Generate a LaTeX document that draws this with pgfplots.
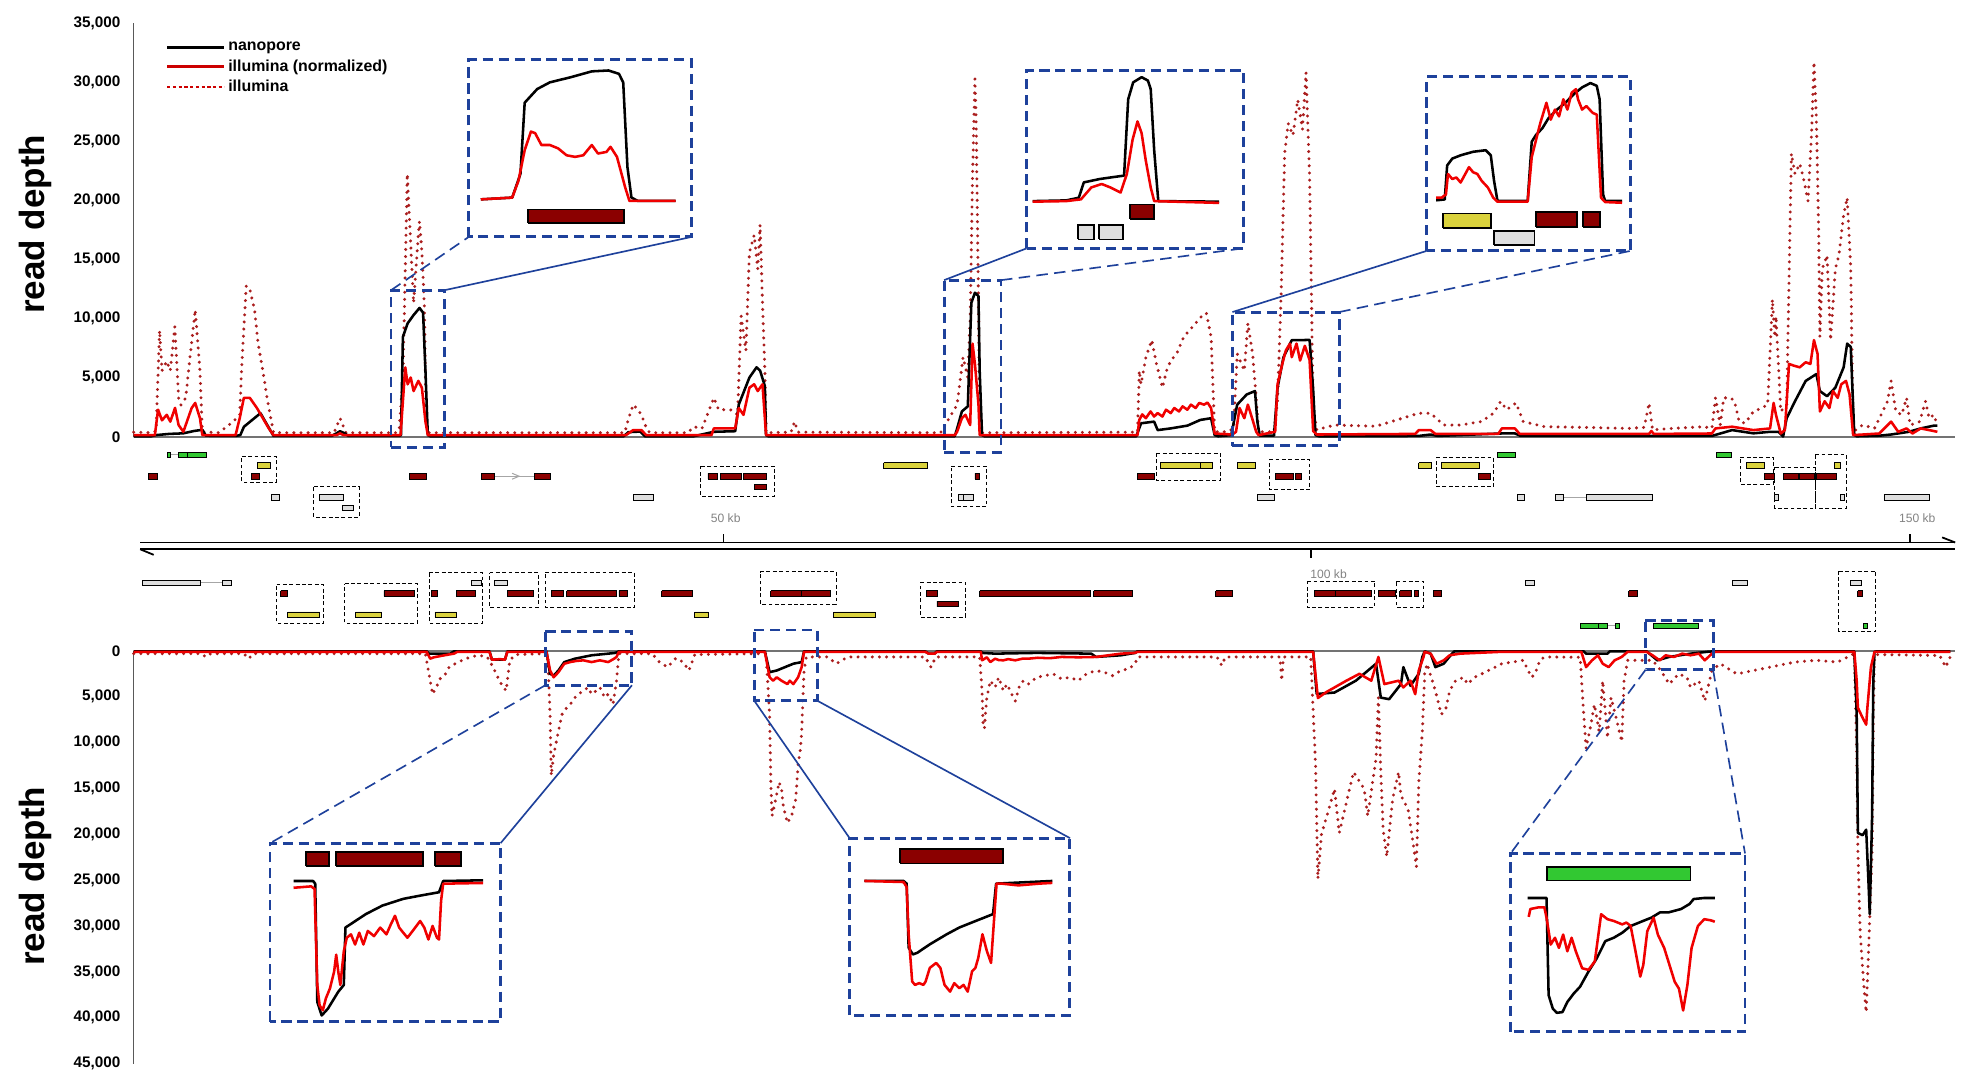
\documentclass[border=0pt]{standalone}
\usepackage{fontspec}
\setmainfont{Liberation Sans}
\usepackage{pgfplots}
\pgfplotsset{compat=1.18}

\definecolor{illRed}{RGB}{240,0,0}
\definecolor{illDot}{RGB}{170,30,30}
\definecolor{gRed}{RGB}{139,0,0}
\definecolor{gYellow}{RGB}{218,210,60}
\definecolor{gGreen}{RGB}{50,200,50}
\definecolor{gGray}{RGB}{222,222,222}
\definecolor{selBlue}{RGB}{30,65,155}
\definecolor{kbGray}{RGB}{130,130,130}

\tikzset{
  link/.style={draw=selBlue, line width=1.3pt},
  dlink/.style={draw=selBlue, line width=1.3pt, dash pattern=on 9pt off 5pt},
}
\pgfplotsset{
  nano/.style={black, line width=2pt, line join=round, forget plot},
  illn/.style={illRed, line width=2pt, line join=round, forget plot},
  illd/.style={illDot, line width=2.6pt, dash pattern=on 0pt off 5.6pt, line cap=round, forget plot},
  depth axis/.style={scale only axis, width=1430pt, xmin=0.32, xmax=153.8,
    axis x line=none, axis y line*=left,
    axis line style={draw=black!65, line width=1pt},
    major tick length=0pt, scaled y ticks=false,
    yticklabel style={font=\bfseries\fontsize{12}{14}\selectfont, xshift=-7pt},
    /pgf/number format/1000 sep={,},
    /pgf/number format/assume math mode=true,
    clip=false},
  inset/.style={scale only axis, xmin=0, xmax=100, ymin=0, ymax=100, ticks=none,
    axis line style={draw=selBlue, line width=2.3pt, dash pattern=on 8pt off 4.5pt},
    clip=false},
}

% gene box: colour, x1, x2, y1, y2
\newcommand{\genebox}[5]{\addplot[fill=#1, draw=black, line width=0.6pt, forget plot] coordinates {(#2,#4)(#3,#4)(#3,#5)(#2,#5)(#2,#4)};}
\newcommand{\igene}[5]{\addplot[fill=#1, draw=black, line width=1.4pt, forget plot] coordinates {(#2,#4)(#3,#4)(#3,#5)(#2,#5)(#2,#4)};}
% gene on a map row: colour, x1, x2, row centre
\newcommand{\gene}[4]{\edef\tmpg{\noexpand\genebox{#1}{#2}{#3}{\fpeval{#4-2.2}}{\fpeval{#4+2.2}}}\tmpg}
\newcommand{\grp}[4]{\addplot[black, line width=0.7pt, dash pattern=on 3pt off 2pt, forget plot] coordinates {(#1,#3)(#2,#3)(#2,#4)(#1,#4)(#1,#3)};}
\newcommand{\selbox}[4]{\addplot[selBlue, line width=2.3pt, dash pattern=on 8pt off 4.5pt, forget plot] coordinates {(#1,#3)(#2,#3)(#2,#4)(#1,#4)(#1,#3)};}

\begin{document}
\begin{tikzpicture}
\useasboundingbox (0pt,0pt) rectangle (1549pt,857pt);

%================ forward strand =================
\begin{axis}[depth axis, name=top, at={(105pt,514pt)}, anchor=south west,
  height=325pt, ymin=0, ymax=35000, ytick={0,5000,...,35000},
  legend style={at={(axis description cs:0.0154,0.966)}, anchor=north west,
    draw=none, fill=none, font=\bfseries\fontsize{12.5}{15}\selectfont, row sep=1.5pt},
  legend cell align=left,
  legend image code/.code={\draw[#1] (0pt,0pt) -- (45pt,0pt);}]
\addlegendimage{black, line width=2pt}\addlegendentry{nanopore}
\addlegendimage{illRed!85!black, line width=2pt}\addlegendentry{illumina (normalized)}
\addlegendimage{illRed!85!black, line width=1.8pt, dash pattern=on 2.6pt off 1.9pt}\addlegendentry{illumina}

\addplot[black!55, line width=1pt, forget plot] coordinates {(0.32,0)(153.8,0)};

\addplot[illd] coordinates {(0.32,400)(1.8,350)(2.2,500)(2.5,9000)(2.7,5600)(3.1,6400)(3.4,5600)(3.78,9300)(4.1,3300)(4.3,2700)(4.7,3300)(5.0,6168)(5.5,10750)(5.9,5595)(6.1,430)(7.5,350)(8.7,1291)(9.25,1865)(9.4,5595)(9.8,12767)(10.1,12480)(10.5,10750)(10.8,7890)(11.2,5595)(11.55,3300)(12.1,350)(17.2,350)(17.7,1580)(18.2,350)(22.5,350)(22.7,717)(23.0,5020)(23.2,14200)(23.37,22235)(23.55,18500)(23.9,11333)(24.3,17070)(24.4,18218)(24.6,15636)(24.8,11333)(24.96,1290)(25.1,350)(41.7,350)(42.0,1500)(42.4,2726)(42.8,2300)(43.1,1860)(43.5,800)(43.8,350)(47.0,350)(47.5,860)(48.2,700)(49.2,3300)(49.6,2300)(50.6,2300)(51.2,1865)(51.5,10200)(51.9,7300)(52.2,15600)(52.6,17070)(52.9,14200)(53.1,17930)(53.3,11333)(53.5,5595)(53.6,350)(55.7,400)(56.0,1291)(56.3,400)(68.3,350)(69.7,2726)(70.2,6740)(70.6,5020)(70.8,10000)(71.0,22000)(71.2,30270)(71.3,27000)(71.5,11333)(71.6,350)(84.9,400)(85.05,5595)(85.2,4447)(85.6,6740)(86.1,8180)(86.5,6170)(87.0,4160)(87.35,5595)(87.7,6455)(88.2,7030)(88.8,8460)(89.3,9037)(89.8,9611)(90.3,10190)(90.7,10470)(91.1,8460)(91.4,430)(92.5,430)(93.0,717)(93.3,7030)(93.9,5595)(94.2,9611)(94.6,7030)(94.9,3300)(95.1,430)(96.4,430)(96.7,3000)(97.0,12000)(97.3,24000)(97.6,26500)(98.0,25500)(98.4,28500)(98.8,26000)(99.1,30800)(99.4,22000)(99.7,2500)(100.0,600)(101.5,1000)(105.0,900)(108.6,2000)(109.6,2000)(110.7,1000)(112.1,1000)(113.9,1300)(114.9,2000)(115.5,3000)(116.0,2300)(116.8,2870)(117.4,1300)(119.2,860)(122.7,800)(126.2,717)(127.6,800)(128.0,2870)(128.3,600)(129.7,700)(132.6,860)(133.3,717)(133.6,3300)(134.0,1004)(134.3,3300)(134.9,3300)(135.2,3010)(135.6,1291)(136.1,1150)(136.8,2150)(137.5,2440)(138.0,2726)(138.4,11620)(138.6,8460)(138.7,10190)(139.1,2150)(139.6,2726)(140.0,23960)(140.3,22240)(140.7,23100)(141.0,21950)(141.4,19940)(141.7,25700)(141.9,31700)(142.1,27100)(142.3,17070)(142.4,8460)(142.6,14200)(143.0,15350)(143.3,8180)(143.7,14200)(144.0,15350)(144.4,18790)(144.7,20230)(145.0,14200)(145.2,430)(146.0,1004)(147.0,717)(148.1,3010)(148.4,4734)(148.8,2150)(149.3,1865)(149.7,3300)(150.0,1000)(150.8,1291)(151.3,3010)(151.6,1578)(152.0,1865)(152.3,1000)};

\addplot[nano] coordinates {(0.32,50)(1.8,50)(2.2,150)(3.3,250)(4.5,300)(5.4,500)(6.1,600)(6.4,100)(8.9,80)(9.3,150)(9.6,850)(10.3,1430)(11.0,2000)(11.4,1300)(11.9,430)(12.1,80)(17.0,80)(17.4,300)(17.7,480)(18.1,300)(18.4,80)(22.7,80)(22.84,150)(23.0,8460)(23.4,9600)(23.9,10300)(24.4,10900)(24.7,10500)(24.9,5600)(25.1,150)(25.3,50)(41.6,50)(42.0,400)(43.0,450)(43.4,50)(47.5,50)(49.2,430)(51.0,480)(51.3,2726)(52.2,5020)(52.8,5880)(53.1,5600)(53.5,4300)(53.6,150)(53.8,50)(69.5,50)(69.7,700)(70.1,2150)(70.6,2580)(70.9,11333)(71.2,12190)(71.5,11900)(71.6,5600)(71.8,150)(72.0,50)(84.8,50)(85.2,1150)(86.3,1290)(86.6,574)(87.7,717)(89.1,950)(90.2,1435)(91.1,1578)(91.4,150)(91.7,50)(92.8,150)(93.3,2726)(94.1,3586)(94.8,3873)(95.0,1291)(95.2,100)(96.4,100)(96.7,4160)(97.2,6740)(97.9,8180)(98.6,8180)(99.4,8200)(99.7,4000)(99.9,150)(100.2,50)(108.6,80)(109.6,200)(110.2,80)(115.6,290)(116.7,290)(117.2,80)(133.3,80)(135.0,574)(136.8,300)(138.2,430)(138.9,430)(139.3,30)(139.6,1580)(140.3,3010)(141.2,4730)(142.1,5310)(142.4,3873)(143.0,3440)(143.7,4160)(144.4,5880)(144.7,7890)(145.0,7600)(145.3,150)(145.5,50)(147.4,100)(148.4,200)(149.9,430)(150.9,717)(152.0,950)(152.3,950)};

\addplot[illn] coordinates {(0.32,150)(2.1,150)(2.37,2300)(2.7,1400)(3.1,1865)(3.4,1290)(3.8,2450)(4.1,1000)(4.5,430)(4.8,1290)(5.2,2440)(5.5,2870)(5.9,1580)(6.1,150)(8.9,150)(9.25,1580)(9.6,3300)(10.1,3300)(10.7,2440)(11.2,1580)(11.7,717)(12.1,150)(17.4,150)(17.7,300)(18.0,150)(22.8,150)(23.2,5880)(23.4,4447)(23.66,5020)(23.9,3873)(24.3,4734)(24.6,4160)(24.9,1291)(25.1,150)(41.8,150)(42.4,570)(43.1,570)(43.5,150)(49.0,150)(49.2,717)(51.0,717)(51.3,2440)(51.7,1865)(52.2,4160)(52.6,4447)(52.9,3873)(53.3,4447)(53.6,150)(69.5,150)(69.7,430)(70.1,1578)(70.4,1865)(70.8,1004)(71.0,7890)(71.2,6168)(71.5,2726)(71.6,150)(84.9,150)(85.05,1435)(85.3,1900)(85.6,1578)(86.0,2150)(86.3,1720)(86.6,2010)(87.0,1720)(87.3,2300)(87.7,2010)(88.0,2440)(88.4,2150)(88.7,2580)(89.1,2295)(89.4,2726)(89.8,2440)(90.1,2870)(90.5,2726)(90.8,2900)(91.1,2440)(91.4,287)(92.9,200)(93.2,430)(93.5,2440)(93.9,1578)(94.2,2726)(94.6,1435)(94.9,430)(95.1,150)(96.5,430)(96.7,4447)(97.1,6168)(97.4,7310)(97.75,7890)(97.9,6740)(98.3,7890)(98.6,6455)(99.0,7700)(99.4,6500)(99.7,500)(100.0,200)(108.3,250)(108.6,570)(109.6,570)(110.0,250)(115.3,250)(115.6,717)(116.7,717)(117.1,250)(128.0,250)(128.2,500)(128.4,250)(133.3,287)(133.6,717)(135.0,860)(136.8,574)(138.2,717)(138.5,2870)(138.7,1865)(139.1,287)(139.45,574)(139.8,6168)(140.2,6025)(140.7,5880)(141.2,6310)(141.6,6168)(141.9,8180)(142.2,7030)(142.4,2150)(142.8,3010)(143.2,2440)(143.5,3873)(143.9,3300)(144.2,4447)(144.6,4734)(144.9,3586)(145.2,150)(147.4,287)(148.4,1291)(149.0,430)(149.7,717)(150.2,287)(150.9,717)(151.6,574)(152.3,430)};

\selbox{22.0}{26.5}{-860}{12400}
\selbox{68.6}{73.4}{-1290}{13250}
\selbox{92.9}{101.9}{-750}{10555}
\coordinate (C1) at (axis cs:22.0,12400);
\coordinate (C2) at (axis cs:26.5,12400);
\coordinate (E1) at (axis cs:68.6,13250);
\coordinate (E2) at (axis cs:73.4,13250);
\coordinate (G1) at (axis cs:92.9,10555);
\coordinate (G2) at (axis cs:101.9,10555);
\end{axis}

%================ reverse strand =================
\begin{axis}[depth axis, name=bot, at={(105pt,22pt)}, anchor=south west,
  height=324pt, ymin=0, ymax=45000, y dir=reverse, ytick={0,5000,...,45000}]
\addplot[black!55, line width=1pt, forget plot] coordinates {(0.32,0)(153.8,0)};

\addplot[illd] coordinates {(0.32,300)(6.0,300)(6.4,660)(6.8,300)(9.6,300)(10.0,850)(10.4,300)(24.9,300)(25.1,1850)(25.5,4720)(25.8,4000)(26.2,2880)(26.6,2500)(26.9,1770)(27.4,1400)(28.0,1030)(28.7,660)(29.4,480)(30.1,660)(30.6,1770)(31.0,2880)(31.3,3620)(31.7,4350)(31.8,3250)(32.0,1030)(32.5,400)(35.2,300)(35.4,6940)(35.5,13580)(35.7,11370)(36.1,8790)(36.4,6940)(36.8,6200)(37.1,5830)(37.5,5090)(37.8,4720)(38.2,4350)(38.6,3985)(38.9,4720)(39.3,4350)(39.6,3985)(40.0,5090)(40.3,4720)(40.7,5830)(41.0,3250)(41.2,300)(44.0,300)(44.6,1200)(45.3,1770)(46.0,800)(46.6,1200)(47.1,2140)(47.6,400)(53.6,300)(53.9,6940)(54.0,14300)(54.1,18000)(54.3,16900)(54.7,14300)(54.9,15050)(55.05,16900)(55.4,18760)(55.75,18000)(56.1,16160)(56.3,12470)(56.5,10630)(56.6,8790)(56.8,2140)(57.0,660)(58.8,660)(59.5,1400)(60.5,660)(67.0,660)(67.5,1770)(67.9,660)(71.6,660)(71.8,4350)(71.9,8410)(72.0,8410)(72.2,5090)(72.5,3250)(72.9,3985)(73.2,2880)(73.6,4350)(73.9,3620)(74.3,4720)(74.6,5460)(75.0,3620)(75.3,3250)(75.7,3620)(76.4,2880)(77.1,2700)(77.8,2510)(78.5,3060)(79.2,2880)(79.9,3250)(80.6,2510)(81.4,2140)(82.1,2330)(82.8,2700)(83.5,2140)(84.2,1950)(84.7,1400)(84.9,660)(91.6,660)(92.0,1590)(92.3,660)(96.9,660)(97.05,3250)(97.2,660)(99.5,660)(99.9,12360)(100.1,24860)(100.4,20000)(100.9,17800)(101.5,15050)(101.9,19850)(103.1,13210)(104.0,15050)(104.3,18000)(105.0,11730)(105.2,5090)(105.4,13210)(105.6,19480)(105.9,22440)(106.4,16160)(106.9,13210)(107.1,15790)(107.7,17270)(108.0,19850)(108.4,23540)(108.6,14320)(108.9,8790)(109.1,2500)(109.3,1400)(110.0,4350)(110.5,6940)(110.9,6200)(111.2,4350)(111.7,3250)(112.4,2880)(112.7,3620)(113.3,2880)(113.9,2510)(115.6,1400)(117.4,1030)(118.1,2880)(118.4,2510)(118.8,1030)(119.2,660)(122.2,700)(122.5,6940)(122.7,10630)(123.1,8050)(123.4,5830)(123.8,8790)(124.1,3250)(124.5,9520)(124.8,5090)(125.3,7680)(125.7,9900)(125.9,3250)(126.2,1030)(127.8,1030)(128.3,1030)(129.0,2140)(129.7,3620)(130.5,2510)(131.2,2880)(131.5,3985)(132.2,3250)(132.7,5460)(133.3,2140)(134.0,1400)(135.4,2510)(136.8,2140)(138.2,1770)(140.3,1220)(142.1,1030)(143.9,1220)(145.3,300)(145.5,10630)(145.6,21700)(145.8,30900)(146.1,36460)(146.3,39400)(146.5,32770)(146.8,21700)(146.9,6940)(147.0,660)(147.2,400)(152.5,500)(153.0,1770)(153.4,600)};

\addplot[nano] coordinates {(0.32,50)(25.0,50)(25.2,300)(27.0,300)(27.3,50)(30.3,50)(30.5,960)(31.6,960)(31.8,50)(35.1,50)(35.4,2500)(35.7,2700)(36.1,2150)(36.6,1220)(37.5,850)(38.9,480)(40.3,300)(40.9,220)(41.2,50)(53.5,50)(53.9,2320)(54.5,2140)(55.2,1770)(55.9,1400)(56.6,1220)(56.8,50)(67.0,50)(67.3,300)(67.8,300)(68.0,50)(71.7,50)(71.8,220)(72.9,300)(76.4,220)(81.0,300)(81.4,660)(83.5,480)(84.7,220)(84.9,50)(99.7,50)(100.0,4700)(101.5,4540)(103.3,3250)(105.0,1400)(105.4,5090)(106.1,5270)(107.1,3620)(107.3,1770)(107.9,3800)(108.6,2500)(108.9,660)(109.1,50)(109.6,300)(110.0,1770)(110.7,1400)(111.4,300)(111.6,50)(122.5,50)(122.7,300)(124.5,300)(124.7,50)(127.8,50)(128.7,1030)(129.7,660)(131.5,300)(132.9,100)(133.4,50)(145.3,50)(145.5,6940)(145.6,19850)(146.0,20100)(146.3,19500)(146.5,25400)(146.6,28700)(146.8,18000)(146.9,3300)(147.0,100)(147.2,50)(153.4,50)};

\addplot[illn] coordinates {(0.32,100)(25.0,100)(25.3,850)(25.6,700)(26.5,480)(27.3,300)(27.6,100)(30.3,100)(30.5,960)(31.2,900)(31.6,960)(31.8,100)(35.1,100)(35.4,2140)(35.7,2880)(36.1,2330)(36.6,1400)(37.1,1220)(37.6,1100)(38.2,1030)(38.9,1220)(39.6,1030)(40.3,1220)(40.8,850)(41.0,660)(41.2,100)(53.5,100)(53.9,2880)(54.2,3250)(54.5,2880)(54.9,3250)(55.4,3620)(55.6,3250)(55.9,3620)(56.3,2880)(56.6,1770)(56.8,100)(67.0,100)(67.3,300)(67.8,300)(68.0,100)(71.7,100)(71.8,1030)(72.2,700)(72.5,1220)(72.9,850)(73.2,1000)(73.6,1030)(74.0,900)(74.6,1030)(75.2,850)(75.7,850)(76.5,750)(77.5,800)(78.5,660)(79.9,700)(81.4,660)(83.5,300)(84.7,220)(84.9,100)(99.7,100)(100.1,5140)(100.8,4500)(101.5,3985)(102.5,3250)(103.6,2500)(104.6,3250)(105.2,660)(105.7,3620)(106.9,3250)(107.3,3985)(107.9,3250)(108.3,4720)(108.6,2140)(109.0,660)(109.1,100)(109.6,300)(110.1,1400)(110.7,1030)(111.2,480)(112.1,300)(115.6,100)(122.3,100)(122.7,1770)(123.2,1030)(123.7,480)(124.1,1400)(124.6,1770)(125.1,1030)(125.7,660)(126.2,100)(127.8,100)(128.3,480)(128.9,1030)(129.4,480)(130.1,660)(130.8,300)(131.5,480)(132.2,300)(132.7,1030)(133.3,300)(133.6,100)(145.3,100)(145.5,3250)(145.6,6200)(146.0,7300)(146.3,8040)(146.4,6200)(146.7,1770)(147.0,100)(153.4,100)};

\selbox{35.0}{42.3}{-2100}{3750}
\selbox{52.6}{57.9}{-2280}{5420}
\selbox{127.7}{133.4}{-3330}{2080}
\coordinate (J1) at (axis cs:35.0,3750);
\coordinate (J2) at (axis cs:42.3,3750);
\coordinate (K1) at (axis cs:52.6,5420);
\coordinate (K2) at (axis cs:57.9,5420);
\coordinate (O1) at (axis cs:127.7,2080);
\coordinate (O2) at (axis cs:133.4,2080);
\end{axis}

%================ genome map =================
\begin{axis}[name=map, at={(105pt,352pt)}, anchor=south west, scale only axis,
  width=1430pt, height=160pt, xmin=0.32, xmax=153.8, ymin=345, ymax=505,
  y dir=reverse, hide axis, clip=false]
% scale bar
\addplot[black, line width=1.4pt, forget plot] coordinates {(0.86,425.9)(153.8,425.9)};
\addplot[black, line width=1.4pt, forget plot] coordinates {(0.86,431.2)(153.8,431.2)};
\addplot[black, line width=1.4pt, forget plot] coordinates {(0.86,431.2)(2.0,435.6)};
\addplot[black, line width=1.4pt, forget plot] coordinates {(153.8,425.9)(152.7,421.9)};
\addplot[black, line width=1.2pt, forget plot] coordinates {(50,425.9)(50,419)};
\addplot[black, line width=1.2pt, forget plot] coordinates {(150,425.9)(150,419)};
\addplot[black, line width=1.2pt, forget plot] coordinates {(99.5,431.2)(99.5,438)};
\node[kbGray, font=\fontsize{9.5}{11}\selectfont] at (axis cs:50.2,406.6) {50 kb};
\node[kbGray, font=\fontsize{9.5}{11}\selectfont] at (axis cs:150.6,406.6) {150 kb};
\node[kbGray, font=\fontsize{9.5}{11}\selectfont] at (axis cs:101.0,450.4) {100 kb};

% thin grey links between exons
\addplot[black!35, line width=0.8pt, forget plot] coordinates {(3.39,357.2)(4.07,357.2)};
\addplot[black!35, line width=0.8pt, forget plot] coordinates {(30.7,373.9)(34.1,373.9)};
\addplot[black!35, line width=0.8pt, forget plot] coordinates {(32.2,371.6)(32.8,373.9)(32.2,376.2)};
\addplot[black!35, line width=0.8pt, forget plot] coordinates {(120.8,390.5)(122.7,390.5)};
\addplot[black!35, line width=0.8pt, forget plot] coordinates {(5.97,457.6)(7.83,457.6)};
\addplot[black!35, line width=0.8pt, forget plot] coordinates {(124.5,491.4)(125.2,491.4)};

% dashed groups
\grp{9.43}{12.36}{358.6}{378.4}
\grp{15.5}{19.3}{382.3}{406.1}
\grp{48.1}{54.3}{366}{389.4}
\grp{69.2}{72.2}{366}{397.6}
\grp{86.5}{91.9}{355.9}{377}
\grp{96.0}{99.4}{360.7}{384.4}
\grp{110.1}{114.9}{359.1}{382.3}
\grp{135.7}{138.5}{359.1}{380.2}
\grp{138.6}{142.0}{367}{399}
\grp{142.0}{144.6}{356.4}{399}
\grp{12.36}{16.3}{458.9}{489.2}
\grp{18.1}{24.2}{458.4}{489.2}
\grp{25.2}{29.7}{449.6}{489.2}
\grp{30.3}{34.4}{449.6}{476.8}
\grp{35.0}{42.5}{449.6}{476.8}
\grp{53.1}{59.5}{448.8}{474.2}
\grp{66.6}{70.4}{457}{484.5}
\grp{99.2}{104.9}{456.2}{476.8}
\grp{106.7}{109.0}{456.2}{476.8}
\grp{144.0}{147.1}{448.3}{495.8}

% forward genes
\gene{gGreen}{3.19}{3.39}{357.2}
\gene{gGreen}{4.07}{4.83}{357.2}
\gene{gGreen}{4.83}{6.46}{357.2}
\gene{gGreen}{115.2}{116.7}{357.2}
\gene{gGreen}{133.7}{134.9}{357.2}
\gene{gYellow}{10.73}{11.8}{365.4}
\gene{gYellow}{63.5}{67.2}{365.4}
\gene{gYellow}{86.8}{90.2}{365.4}
\gene{gYellow}{90.2}{91.2}{365.4}
\gene{gYellow}{93.3}{94.8}{365.4}
\gene{gYellow}{108.6}{109.7}{365.4}
\gene{gYellow}{110.5}{113.7}{365.4}
\gene{gYellow}{136.2}{137.7}{365.4}
\gene{gYellow}{143.6}{144.1}{365.4}
\gene{gRed}{1.59}{2.30}{373.9}
\gene{gRed}{10.25}{10.91}{373.9}
\gene{gRed}{23.55}{25.0}{373.9}
\gene{gRed}{29.6}{30.7}{373.9}
\gene{gRed}{34.1}{35.4}{373.9}
\gene{gRed}{48.7}{49.5}{373.9}
\gene{gRed}{49.75}{51.5}{373.9}
\gene{gRed}{51.7}{53.6}{373.9}
\gene{gRed}{52.6}{53.6}{382.3}
\gene{gRed}{71.2}{71.6}{373.9}
\gene{gRed}{84.9}{86.3}{373.9}
\gene{gRed}{96.5}{98.0}{373.9}
\gene{gRed}{98.2}{98.7}{373.9}
\gene{gRed}{113.6}{114.6}{373.9}
\gene{gRed}{137.7}{138.6}{373.9}
\gene{gRed}{139.3}{140.6}{373.9}
\gene{gRed}{140.7}{141.9}{373.9}
\gene{gRed}{142.1}{143.8}{373.9}
\gene{gGray}{11.9}{12.6}{390.5}
\gene{gGray}{15.97}{18.0}{390.5}
\gene{gGray}{17.9}{18.8}{398.7}
\gene{gGray}{42.4}{44.1}{390.5}
\gene{gGray}{69.8}{70.2}{390.5}
\gene{gGray}{70.2}{71.1}{390.5}
\gene{gGray}{95.0}{96.4}{390.5}
\gene{gGray}{116.9}{117.5}{390.5}
\gene{gGray}{120.1}{120.8}{390.5}
\gene{gGray}{122.7}{128.3}{390.5}
\gene{gGray}{138.6}{138.9}{390.5}
\gene{gGray}{144.1}{144.5}{390.5}
\gene{gGray}{147.8}{151.6}{390.5}

% reverse genes
\gene{gGray}{1.06}{5.97}{457.6}
\gene{gGray}{7.83}{8.55}{457.6}
\gene{gGray}{28.8}{29.6}{457.6}
\gene{gGray}{30.7}{31.8}{457.6}
\gene{gGray}{117.6}{118.3}{457.6}
\gene{gGray}{135.0}{136.3}{457.6}
\gene{gGray}{145.0}{145.9}{457.6}
\gene{gRed}{12.7}{13.3}{466}
\gene{gRed}{21.4}{24.0}{466}
\gene{gRed}{25.4}{25.9}{466}
\gene{gRed}{27.5}{29.1}{466}
\gene{gRed}{31.8}{34.0}{466}
\gene{gRed}{35.5}{36.5}{466}
\gene{gRed}{36.8}{41.0}{466}
\gene{gRed}{41.2}{41.9}{466}
\gene{gRed}{44.8}{47.4}{466}
\gene{gRed}{54.0}{56.6}{466}
\gene{gRed}{56.6}{59.0}{466}
\gene{gRed}{67.1}{68.0}{466}
\gene{gRed}{68.0}{69.8}{474.2}
\gene{gRed}{71.6}{80.9}{466}
\gene{gRed}{81.2}{84.5}{466}
\gene{gRed}{91.5}{92.9}{466}
\gene{gRed}{99.8}{101.6}{466}
\gene{gRed}{101.6}{104.6}{466}
\gene{gRed}{105.2}{106.6}{466}
\gene{gRed}{107.0}{108.0}{466}
\gene{gRed}{108.2}{108.6}{466}
\gene{gRed}{109.8}{110.5}{466}
\gene{gRed}{126.3}{127.0}{466}
\gene{gRed}{145.6}{146.0}{466}
\gene{gYellow}{13.3}{16.0}{482.6}
\gene{gYellow}{19.0}{21.2}{482.6}
\gene{gYellow}{25.7}{27.5}{482.6}
\gene{gYellow}{47.6}{48.7}{482.6}
\gene{gYellow}{59.3}{62.8}{482.6}
\gene{gGreen}{122.2}{123.7}{491.4}
\gene{gGreen}{123.7}{124.5}{491.4}
\gene{gGreen}{125.2}{125.5}{491.4}
\gene{gGreen}{128.4}{132.2}{491.4}
\gene{gGreen}{146.1}{146.4}{491.4}
\end{axis}

%================ zoomed insets =================
\begin{axis}[inset, name=ins1, at={(368pt,671pt)}, anchor=south west, width=175pt, height=139pt]
\igene{gRed}{26.5}{69.7}{7.9}{15.5}
\addplot[nano] coordinates {(5.4,21.2)(19.5,22.2)(23.2,35.6)(25.1,75.8)(30.7,83.5)(36.4,87.3)(45.8,90.2)(55.2,93.5)(62.7,94.0)(67.4,92.1)(69.3,87.3)(71.2,39.4)(73.0,22.2)(75.9,20.3)(92.8,20.3)};
\addplot[illn] coordinates {(5.4,21.2)(19.5,22.2)(22.3,31.7)(25.1,49.0)(27.9,59.5)(29.8,58.6)(32.6,51.9)(36.4,51.9)(40.1,50.0)(43.9,46.1)(47.7,45.2)(51.4,46.1)(55.2,51.9)(58.0,47.1)(61.8,48.0)(63.6,50.9)(66.5,45.2)(70.2,27.9)(72.1,20.3)(92.8,20.3)};
\end{axis}

\begin{axis}[inset, name=ins2, at={(806pt,662pt)}, anchor=south west, width=170pt, height=140pt]
\igene{gRed}{47.7}{58.9}{16.6}{24.6}
\igene{gGray}{23.7}{31.2}{5}{13}
\igene{gGray}{33.4}{44.4}{5}{13}
\addplot[nano] coordinates {(2.8,26.5)(18.3,26.9)(24.1,28.4)(26.4,37.0)(33.8,38.9)(39.6,39.9)(45.0,40.8)(46.9,83.6)(49.2,93.1)(53.1,96.0)(56.0,94.1)(57.3,89.3)(58.9,55.1)(60.8,26.5)(88.9,26.2)};
\addplot[illn] coordinates {(2.8,26.2)(18.3,26.5)(25.1,27.5)(29.9,34.2)(34.7,36.1)(38.6,34.2)(43.4,31.3)(46.3,41.8)(48.9,60.8)(51.2,71.2)(53.1,64.6)(55.0,49.4)(57.3,34.2)(58.9,26.5)(88.9,25.5)};
\end{axis}

\begin{axis}[inset, name=ins3, at={(1120pt,660pt)}, anchor=south west, width=160pt, height=137pt]
\igene{gYellow}{8.1}{31.5}{13.0}{21.4}
\igene{gGray}{33.1}{52.9}{3.3}{11.4}
\igene{gRed}{53.7}{73.7}{13.8}{22.1}
\igene{gRed}{76.8}{84.9}{13.8}{22.1}
\addplot[nano] coordinates {(4.7,29.0)(8.9,29.5)(10.1,49.0)(12.6,52.9)(16.7,54.8)(22.8,56.8)(29.0,57.7)(31.5,54.8)(33.1,40.2)(34.8,28.6)(49.6,28.6)(51.6,62.6)(53.7,66.5)(56.8,70.3)(59.9,76.2)(64.0,81.0)(68.1,84.9)(72.2,89.8)(76.3,93.7)(80.4,96.2)(83.5,94.6)(84.9,86.9)(86.6,32.4)(87.6,28.6)(95.9,28.6)};
\addplot[illn] coordinates {(4.7,30.5)(7.4,30.5)(9.5,32.4)(10.5,44.1)(12.6,41.2)(14.6,42.1)(16.7,39.2)(20.8,48.0)(22.8,45.1)(24.9,44.1)(27.0,40.2)(30.1,36.3)(32.7,30.5)(34.8,28.2)(49.6,28.2)(51.6,53.8)(53.7,63.5)(55.8,73.3)(56.8,77.1)(58.8,84.9)(60.9,75.2)(63.0,81.0)(65.0,77.1)(67.1,86.9)(69.1,81.0)(71.2,90.7)(73.3,92.7)(74.3,86.9)(76.3,81.0)(78.4,83.0)(81.5,79.1)(83.5,78.1)(85.6,30.5)(87.6,28.0)(95.9,27.6)};
\end{axis}

\begin{axis}[inset, name=insJ, at={(212pt,55pt)}, anchor=south west, width=181pt, height=140pt]
\igene{gRed}{15.6}{25.5}{87.1}{94.9}
\igene{gRed}{28.7}{66.4}{87.1}{94.9}
\igene{gRed}{71.5}{82.9}{87.1}{94.9}
\addplot[nano] coordinates {(10.2,78.8)(18.7,78.8)(19.6,77.3)(20.5,11.0)(22.4,3.4)(25.1,7.2)(29.6,16.7)(32.0,20.5)(32.7,52.7)(36.0,55.5)(41.5,60.2)(48.7,65.0)(57.8,68.8)(65.1,70.6)(73.3,72.5)(75.1,78.8)(92.4,79.2)};
\addplot[illn] coordinates {(10.2,75.0)(17.8,75.8)(19.3,74.4)(20.5,20.5)(21.5,9.1)(22.9,6.3)(24.2,12.9)(26.0,18.6)(27.8,28.0)(28.7,37.5)(29.6,28.0)(30.5,20.5)(32.0,39.4)(33.3,47.0)(35.1,48.9)(36.9,43.2)(38.7,49.8)(40.5,43.2)(42.4,50.8)(45.1,47.9)(47.8,52.7)(50.5,48.9)(52.4,54.5)(54.2,59.3)(56.0,52.7)(57.8,49.8)(59.6,47.0)(62.4,51.7)(65.1,56.4)(66.9,52.7)(68.7,46.0)(70.5,53.6)(72.4,47.0)(73.3,46.0)(74.2,67.8)(75.1,77.3)(92.4,77.7)};
\end{axis}

\begin{axis}[inset, name=insK, at={(667pt,60pt)}, anchor=south west, width=173pt, height=139pt]
\igene{gRed}{23.0}{69.5}{85.7}{93.7}
\addplot[nano] coordinates {(6.7,75.8)(24.5,75.8)(25.9,74.3)(26.8,38.1)(28.7,34.3)(30.7,35.2)(36.4,40.0)(44.1,45.7)(49.8,49.5)(55.6,52.4)(61.3,55.2)(65.1,57.1)(66.5,74.3)(92.0,75.8)};
\addplot[illn] coordinates {(6.7,75.8)(24.5,75.2)(25.9,72.4)(26.8,45.7)(28.4,19.0)(29.7,17.1)(31.6,18.1)(33.5,17.1)(34.5,19.0)(36.4,26.7)(39.3,29.5)(41.2,26.7)(43.1,17.1)(45.6,13.3)(47.5,18.1)(49.8,15.2)(51.7,17.1)(53.6,13.3)(55.6,24.8)(57.1,26.7)(58.4,32.4)(60.3,45.7)(62.3,36.2)(64.2,29.5)(65.1,45.7)(66.7,74.3)(69.0,74.3)(76.6,73.3)(86.2,74.3)(92.0,74.7)};
\end{axis}

\begin{axis}[inset, name=insO, at={(1186pt,47pt)}, anchor=south west, width=184pt, height=140pt]
\igene{gGreen}{15.6}{76.7}{84.8}{92.4}
\addplot[nano] coordinates {(7.2,75.0)(15.3,75.0)(16.2,20.5)(18.0,12.9)(19.7,10.6)(22.1,11.0)(24.2,16.7)(26.9,21.4)(29.6,25.2)(33.2,33.7)(36.8,41.3)(40.4,50.8)(44.0,52.7)(47.6,55.5)(51.2,59.3)(54.8,61.2)(60.1,64.0)(63.7,66.9)(67.3,66.9)(72.7,68.8)(76.3,71.6)(78.1,74.4)(82.6,75.0)(87.1,75.0)};
\addplot[illn] coordinates {(7.7,64.4)(8.4,68.8)(11.7,69.7)(14.4,69.7)(15.3,64.0)(17.1,48.9)(18.9,52.7)(20.6,47.0)(22.4,54.5)(24.2,45.1)(26.0,52.7)(27.8,45.1)(30.5,35.6)(33.2,34.7)(35.9,39.4)(38.6,65.9)(41.3,63.1)(44.0,62.1)(47.6,60.2)(49.4,61.2)(51.2,59.3)(53.0,47.0)(55.3,30.9)(56.6,37.5)(58.3,56.4)(61.0,64.0)(62.8,54.5)(65.5,47.0)(67.3,39.4)(70.0,28.0)(71.8,24.2)(73.6,11.9)(75.4,26.1)(77.2,47.0)(79.9,59.3)(82.6,63.1)(85.3,62.5)(87.1,61.7)};
\end{axis}

% links from the marked regions to their insets
\draw[dlink] (C1) -- (ins1.south west);
\draw[link]  (C2) -- (ins1.south east);
\draw[link]  (E1) -- (ins2.south west);
\draw[dlink] (E2) -- (ins2.south east);
\draw[link]  (G1) -- (ins3.south west);
\draw[dlink] (G2) -- (ins3.south east);
\draw[dlink] (J1) -- (insJ.north west);
\draw[link]  (J2) -- (insJ.north east);
\draw[link]  (K1) -- (insK.north west);
\draw[link]  (K2) -- (insK.north east);
\draw[dlink] (O1) -- (insO.north west);
\draw[dlink] (O2) -- (insO.north east);

\node[rotate=90, font=\bfseries\fontsize{27.5}{30}\selectfont] at (28pt,681pt) {read depth};
\node[rotate=90, font=\bfseries\fontsize{27.5}{30}\selectfont] at (28pt,169pt) {read depth};
\end{tikzpicture}
\end{document}
